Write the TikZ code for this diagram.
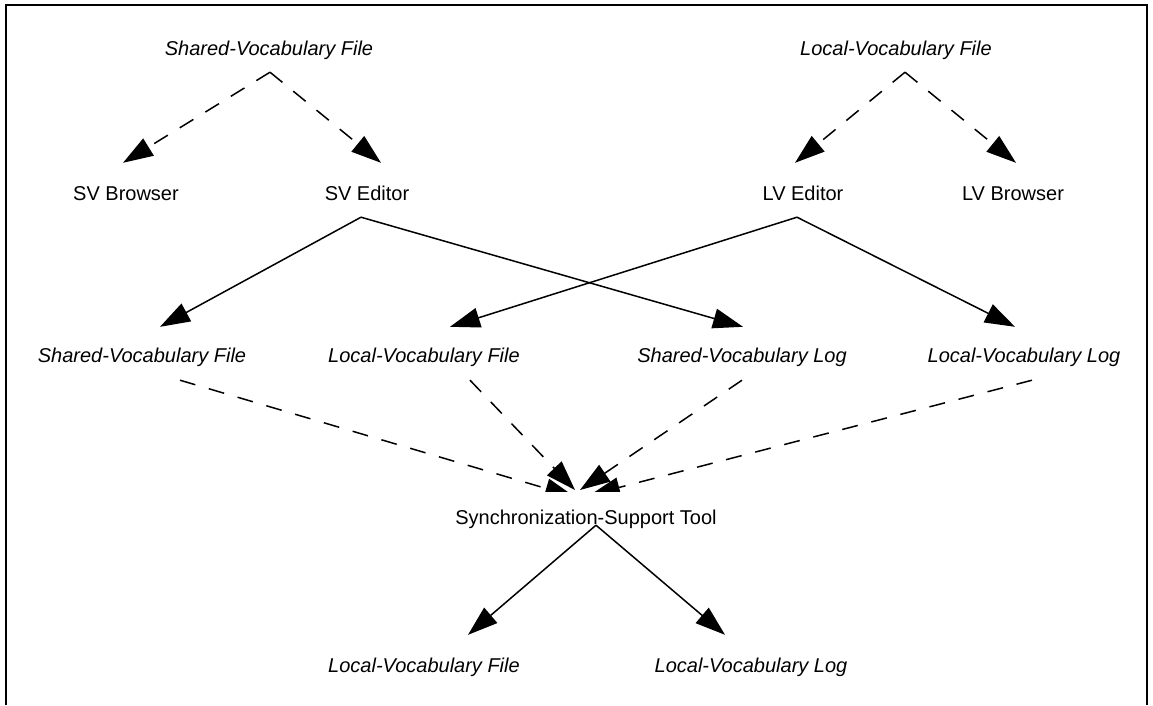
\documentclass[tikz,border=0pt]{standalone}
\usepackage{fontspec}
\setmainfont{Liberation Sans}
\usetikzlibrary{arrows.meta}
\tikzset{
  lbl/.style={inner sep=0pt, text height=14pt, text depth=4pt, anchor=base, font=\fontsize{20}{24}\selectfont},
  doc/.style={lbl, font=\fontsize{20}{24}\selectfont\itshape},
  flow/.style={-{Triangle[length=30pt,width=20pt]}, line width=1.5pt},
  dflow/.style={flow, dash pattern=on 16pt off 14pt},
}
\begin{document}
\begin{tikzpicture}[x=1pt,y=-1pt]
  \useasboundingbox (0,0) rectangle (1153,705);
  % frame
  \draw[line width=2pt] (6,705) -- (6,5) -- (1147,5) -- (1147,705);
  % vocabulary files and their tools
  \node[doc] (svtop) at (269,55) {Shared-Vocabulary File};
  \node[doc] (lvtop) at (896,55) {Local-Vocabulary File};
  \node[lbl] (svb) at (126,200) {SV Browser};
  \node[lbl] (sve) at (367,200) {SV Editor};
  \node[lbl] (lve) at (803,200) {LV Editor};
  \node[lbl] (lvb) at (1013,200) {LV Browser};
  \node[doc] (svfile) at (142,362) {Shared-Vocabulary File};
  \node[doc] (lvfile) at (424,362) {Local-Vocabulary File};
  \node[doc] (svlog) at (742,362) {Shared-Vocabulary Log};
  \node[doc] (lvlog) at (1024,362) {Local-Vocabulary Log};
  \node[doc] (lvfileout) at (424,672) {Local-Vocabulary File};
  \node[doc] (lvlogout) at (751,672) {Local-Vocabulary Log};
  \draw[dflow] ([xshift=1pt,yshift=-13pt]svtop.south) -- ([xshift=-3pt,yshift=23pt]svb.north);
  \draw[dflow] ([xshift=1pt,yshift=-13pt]svtop.south) -- ([xshift=14pt,yshift=23pt]sve.north);
  \draw[dflow] ([xshift=9pt,yshift=-13pt]lvtop.south) -- ([xshift=-8pt,yshift=23pt]lve.north);
  \draw[dflow] ([xshift=9pt,yshift=-13pt]lvtop.south) -- ([xshift=3pt,yshift=23pt]lvb.north);
  % editors write files and logs
  \draw[flow] ([xshift=-6pt,yshift=-13pt]sve.south) -- ([xshift=18pt,yshift=21pt]svfile.north);
  \draw[flow] ([xshift=-6pt,yshift=-13pt]sve.south) -- ([xshift=1pt,yshift=21pt]svlog.north);
  \draw[flow] ([xshift=-6pt,yshift=-13pt]lve.south) -- ([xshift=26pt,yshift=21pt]lvfile.north);
  \draw[flow] ([xshift=-6pt,yshift=-13pt]lve.south) -- ([xshift=-9pt,yshift=21pt]lvlog.north);
  % synchronization
  \coordinate (synctop) at (586,492);
  \draw[dflow] ([xshift=38pt,yshift=-14pt]svfile.south) -- ([xshift=-11pt,yshift=-5pt]synctop);
  \draw[dflow] ([xshift=46pt,yshift=-14pt]lvfile.south) -- ([xshift=-11pt,yshift=2pt]synctop);
  \draw[dflow] ([yshift=-14pt]svlog.south) -- ([xshift=-6pt,yshift=2pt]synctop);
  \draw[dflow] ([xshift=8pt,yshift=-14pt]lvlog.south) -- ([xshift=4pt,yshift=-3pt]synctop);
  \node[lbl, fill=white, text height=32pt] (sync) at (586,524) {Synchronization-Support Tool};
  \draw[flow] ([xshift=10pt,yshift=3pt]sync.south) -- ([xshift=44pt,yshift=23pt]lvfileout.north);
  \draw[flow] ([xshift=10pt,yshift=3pt]sync.south) -- ([xshift=-26pt,yshift=23pt]lvlogout.north);
\end{tikzpicture}
\end{document}
